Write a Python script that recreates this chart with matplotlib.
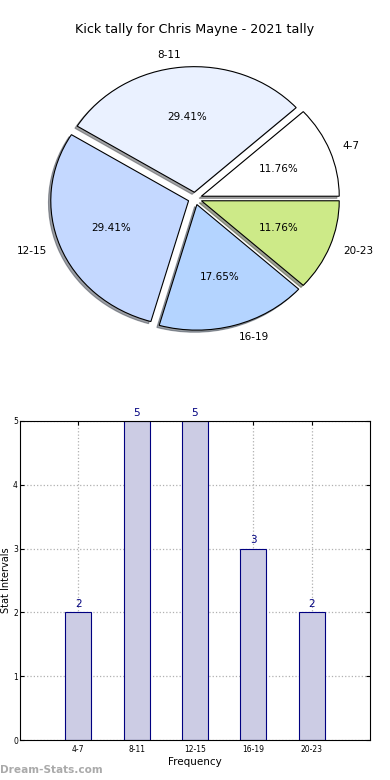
import matplotlib
matplotlib.use("Agg")
import matplotlib.pyplot as plt
import numpy as np

title = "Kick tally for Chris Mayne - 2021 tally"
intervals = ["4-7", "8-11", "12-15", "16-19", "20-23"]
counts = [2, 5, 5, 3, 2]
slice_colors = ["#ffffff", "#eaf1ff", "#c4d8ff", "#b4d4ff", "#cdea88"]
explode = [0.05, 0.05, 0.05, 0.05, 0.05]

fig = plt.figure(figsize=(3.9, 7.8), dpi=100)
fig.text(0.5, 1 - 30 / 780, title, ha="center", va="center", fontsize=9.2)

# pie (old-style, not forced to a circle)
ax1 = fig.add_axes([20 / 390, 422 / 780, 350 / 390, 319 / 780])
wedges, texts, autotexts = ax1.pie(
    counts, labels=intervals, colors=slice_colors, explode=explode,
    autopct="%.2f%%", shadow={"ox": -0.012, "oy": -0.012, "shade": 0.7},
    startangle=0,
    wedgeprops={"edgecolor": "black", "linewidth": 0.8},
    textprops={"fontsize": 7.5},
)
ax1.set_aspect("auto")
ax1.set_xlim(-1.27, 1.27)
ax1.set_ylim(-1.27, 1.27)
ax1.axis("off")

# bar chart
ax2 = fig.add_axes([20 / 390, 40 / 780, 350 / 390, 319 / 780])
x = np.arange(len(intervals))
ax2.bar(x, counts, width=0.45, color="#ccccE4", edgecolor="#000080", linewidth=0.8, zorder=2)
for xi, c in zip(x, counts):
    ax2.text(xi, c + 0.05, str(c), ha="center", va="bottom", fontsize=7.5, color="#000080")
ax2.set_xlim(-1, 5)
ax2.set_ylim(0, 5)
ax2.set_xticks(x, intervals)
ax2.set_yticks(range(6))
ax2.tick_params(labelsize=5.5, direction="in", top=True, right=True, length=3)
ax2.tick_params(axis="y", pad=1.5)
ax2.grid(True, linestyle=":", color="#b0b0b0", linewidth=0.9, zorder=0)
ax2.set_axisbelow(True)
ax2.set_xlabel("Frequency", fontsize=7.5, labelpad=2)
ax2.set_ylabel("Stat Intervals", fontsize=7)
ax2.yaxis.set_label_coords(-0.027, 0.5)

fig.text(0.0, 1 - 770 / 780, "Dream-Stats.com", ha="left", va="center",
         fontsize=7.6, color="#aaaaaa", fontweight="bold")

fig.savefig("out.png", dpi=100)
